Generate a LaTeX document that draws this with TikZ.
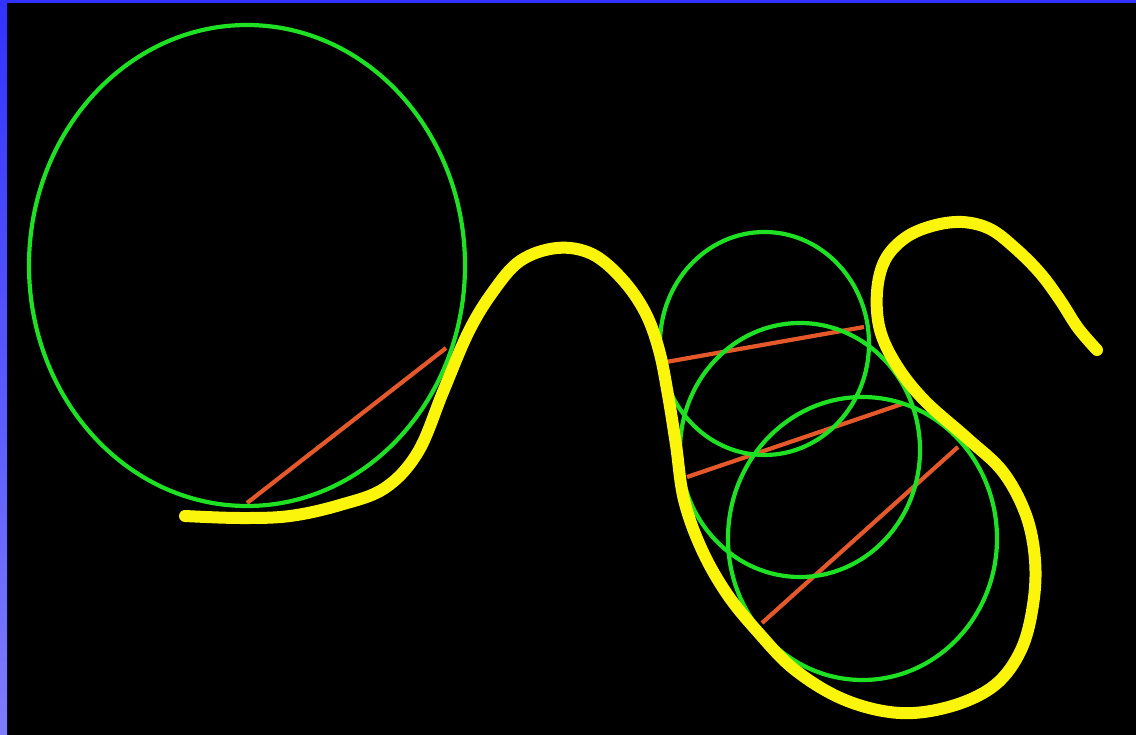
\documentclass[tikz,border=0pt]{standalone}
\begin{document}
\begin{tikzpicture}[x=1pt,y=-1pt,
  circ/.style={draw={rgb,255:red,30;green,225;blue,35}, line width=4.2pt},
  radial/.style={draw={rgb,255:red,228;green,88;blue,42}, line width=4.2pt},
  track/.style={draw={rgb,255:red,250;green,245;blue,10}, line width=12pt, line cap=round, line join=round}]
\definecolor{bordtop}{RGB}{50,50,255}
\definecolor{bordbot}{RGB}{125,125,255}
\useasboundingbox (0,0) rectangle (1136,735);
\fill[black] (0,0) rectangle (1136,735);
% border
\shade[top color=bordtop, bottom color=bordbot] (0,0) rectangle (7,735);
\fill[bordtop] (0,0) rectangle (1136,3);
% red radii
\draw[radial] (247,503) -- (446,348);
\draw[radial] (666,362) -- (864,327);
\draw[radial] (687,477) -- (902,404);
\draw[radial] (762,623) -- (958,447);
% green osculating circles
\draw[circ] (247,265.5) ellipse [x radius=218, y radius=240.5];
\draw[circ] (764.5,343.5) ellipse [x radius=104.5, y radius=111.5];
\draw[circ] (800,450) ellipse [x radius=120, y radius=127];
\draw[circ] (862.5,538.5) ellipse [x radius=134.5, y radius=141.5];
% yellow track
\draw[track] plot[smooth, tension=0.6] coordinates {
 (185,516) (240,518) (290,516) (340,505) (385,488) (418,452)
 (443,392) (468,333) (492,293) (520,261) (557,248) (592,254) (622,279)
 (645,312) (659,350) (668,395) (676,445) (684,500) (702,550)
 (727,594) (757,631) (795,670) (845,700) (900,713) (952,706)
 (995,685) (1021,650) (1033,605) (1035,560) (1026,515) (1003,472)
 (968,439) (925,401) (897,366) (880,330) (877,292) (885,260)
 (905,238) (932,226) (962,222) (990,229) (1015,248) (1040,273)
 (1060,300) (1078,328) (1097,350)};
\end{tikzpicture}
\end{document}
